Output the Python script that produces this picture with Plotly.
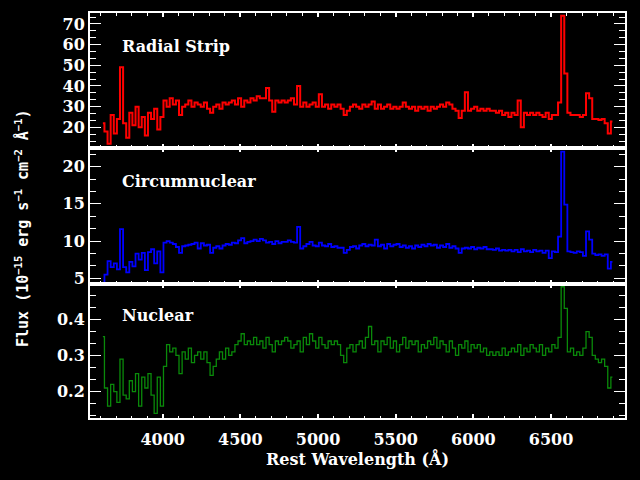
import plotly.graph_objects as go

# Rest wavelength bins (Angstrom)
wave = [3615, 3635, 3655, 3675, 3695, 3715, 3735, 3755, 3775, 3795,
        3815, 3835, 3855, 3875, 3895, 3915, 3935, 3955, 3975, 3995,
        4015, 4035, 4055, 4075, 4095, 4115, 4135, 4155, 4175, 4195,
        4215, 4235, 4255, 4275, 4295, 4315, 4335, 4355, 4375, 4395,
        4415, 4435, 4455, 4475, 4495, 4515, 4535, 4555, 4575, 4595,
        4615, 4635, 4655, 4675, 4695, 4715, 4735, 4755, 4775, 4795,
        4815, 4835, 4855, 4875, 4895, 4915, 4935, 4955, 4975, 4995,
        5015, 5035, 5055, 5075, 5095, 5115, 5135, 5155, 5175, 5195,
        5215, 5235, 5255, 5275, 5295, 5315, 5335, 5355, 5375, 5395,
        5415, 5435, 5455, 5475, 5495, 5515, 5535, 5555, 5575, 5595,
        5615, 5635, 5655, 5675, 5695, 5715, 5735, 5755, 5775, 5795,
        5815, 5835, 5855, 5875, 5895, 5915, 5935, 5955, 5975, 5995,
        6015, 6035, 6055, 6075, 6095, 6115, 6135, 6155, 6175, 6195,
        6215, 6235, 6255, 6275, 6295, 6315, 6335, 6355, 6375, 6395,
        6415, 6435, 6455, 6475, 6495, 6515, 6535, 6555, 6575, 6595,
        6615, 6635, 6655, 6675, 6695, 6715, 6735, 6755, 6775, 6795,
        6815, 6835, 6855, 6875, 6895]

flux_radial = [22, 18, 12, 26, 17, 24, 49, 22, 15, 27,
               21, 30, 20, 25, 16, 27, 24, 29, 19, 25,
               33, 30, 34, 31, 33, 26, 30, 31, 33, 30,
               32, 31, 30, 32, 29, 27, 30, 31, 29, 32,
               31, 32, 33, 31, 34, 30, 33, 32, 34, 33,
               35, 34, 34, 39, 33, 27.5, 33, 32, 33, 32,
               33, 34, 31, 40, 30, 32, 30, 31, 32, 30,
               36, 30, 31, 29, 31, 30, 31, 29, 26, 28,
               30, 31, 30, 29, 31, 30, 31, 32.5, 29, 31,
               29, 30, 31, 29, 30, 29, 30, 32, 30, 29,
               30, 28, 30, 29, 30, 28, 30, 29, 30, 31,
               30, 32, 31, 29, 28, 24.5, 28, 37, 28, 29,
               30, 28, 29, 28, 29, 28, 28, 27, 28, 26,
               27, 25, 27, 26, 33, 20, 27, 26, 27, 26,
               27, 26, 25, 27, 24, 26, 26, 32, 74, 46,
               27, 26, 26, 26, 25, 26, 36.5, 34, 24, 24,
               23.5, 24, 22, 17, 22.8]

flux_circum = [4.3, 5.5, 7.3, 6.5, 7.0, 6.2, 11.6, 6.5, 5.8, 7.2,
               6.6, 8.3, 7.5, 8.4, 6.1, 8.5, 8.9, 7.0, 8.6, 5.8,
               9.8, 10.0, 9.8, 9.6, 9.2, 8.4, 9.3, 9.4, 9.5, 9.6,
               9.8, 9.0, 9.7, 9.4, 9.5, 8.4, 9.1, 9.3, 9.0, 9.4,
               9.6, 9.5, 9.8, 9.7, 10.1, 10.4, 9.7, 9.9, 10.0, 10.2,
               10.0, 10.3, 10.1, 9.8, 9.9, 9.6, 10.0, 9.7, 9.9, 9.9,
               10.1, 9.9, 9.8, 11.9, 9.0, 9.3, 9.6, 9.9, 9.4, 9.3,
               9.8, 9.4, 9.3, 9.6, 9.2, 9.3, 9.1, 9.1, 8.4, 8.8,
               9.2, 9.3, 9.0, 9.4, 9.6, 9.3, 9.5, 9.4, 10.2, 9.3,
               9.5, 9.0, 9.6, 9.3, 9.5, 9.6, 9.2, 9.4, 9.1, 9.3,
               9.0, 9.4, 9.2, 9.5, 9.3, 9.6, 9.4, 9.5, 9.1, 9.4,
               9.2, 9.6, 9.1, 9.3, 9.0, 8.4, 9.0, 9.1, 9.0, 9.2,
               8.9, 9.1, 9.0, 9.2, 8.9, 8.9, 8.8, 9.0, 8.7, 8.8,
               8.7, 8.8, 8.6, 8.8, 8.5, 8.9, 8.6, 8.7, 8.5, 8.8,
               8.6, 8.7, 8.4, 8.7, 7.7, 8.6, 8.5, 10.6, 22.0, 14.9,
               8.6, 8.5, 8.4, 8.6, 8.5, 8.0, 11.3, 10.2, 8.3, 8.1,
               8.2, 8.0, 8.2, 6.3, 7.2]

flux_nuclear = [0.352, 0.21, 0.16, 0.22, 0.20, 0.17, 0.29, 0.19, 0.18, 0.23,
                0.20, 0.25, 0.16, 0.24, 0.21, 0.25, 0.19, 0.14, 0.24, 0.16,
                0.27, 0.33, 0.31, 0.32, 0.30, 0.25, 0.31, 0.29, 0.32, 0.28,
                0.30, 0.31, 0.29, 0.31, 0.28, 0.245, 0.27, 0.29, 0.31, 0.29,
                0.32, 0.30, 0.31, 0.33, 0.34, 0.36, 0.33, 0.34, 0.33, 0.35,
                0.33, 0.34, 0.32, 0.35, 0.33, 0.31, 0.34, 0.33, 0.34, 0.35,
                0.34, 0.32, 0.33, 0.34, 0.31, 0.35, 0.33, 0.36, 0.34, 0.32,
                0.35, 0.33, 0.32, 0.34, 0.33, 0.34, 0.33, 0.30, 0.28, 0.32,
                0.33, 0.31, 0.33, 0.34, 0.32, 0.35, 0.38, 0.33, 0.34, 0.31,
                0.34, 0.33, 0.35, 0.32, 0.34, 0.31, 0.33, 0.35, 0.32, 0.34,
                0.33, 0.34, 0.31, 0.33, 0.32, 0.34, 0.33, 0.35, 0.32, 0.34,
                0.33, 0.31, 0.34, 0.32, 0.30, 0.33, 0.32, 0.34, 0.31, 0.33,
                0.32, 0.33, 0.31, 0.32, 0.30, 0.31, 0.30, 0.31, 0.30, 0.32,
                0.30, 0.31, 0.32, 0.31, 0.33, 0.30, 0.32, 0.31, 0.33, 0.32,
                0.31, 0.33, 0.30, 0.32, 0.31, 0.33, 0.32, 0.35, 0.49, 0.43,
                0.31, 0.32, 0.30, 0.31, 0.30, 0.32, 0.366, 0.35, 0.30, 0.29,
                0.28, 0.29, 0.27, 0.21, 0.24]

panel_names = ["Radial Strip", "Circumnuclear", "Nuclear"]
x_ticks = [4000, 4500, 5000, 5500, 6000, 6500]
y_ticks_radial = [20, 30, 40, 50, 60, 70]
y_ticks_circum = [5, 10, 15, 20]
y_ticks_nuclear = [0.2, 0.3, 0.4]
y_ticktext_nuclear = ["0.2", "0.3", "0.4"]

BIG = dict(family="DejaVu Serif", size=16, color="white", weight="bold")

fig = go.Figure()
fig.add_trace(go.Scatter(x=wave, y=flux_radial, mode="lines",
                         line=dict(color="#ff0000", width=2, shape="hvh"),
                         xaxis="x", yaxis="y", showlegend=False))
fig.add_trace(go.Scatter(x=wave, y=flux_circum, mode="lines",
                         line=dict(color="#0000ff", width=1.8, shape="hvh"),
                         xaxis="x2", yaxis="y2", showlegend=False))
fig.add_trace(go.Scatter(x=wave, y=flux_nuclear, mode="lines",
                         line=dict(color="#0a8a0a", width=1.3, shape="hvh"),
                         xaxis="x3", yaxis="y3", showlegend=False))

def xax(anchor, labels):
    return dict(range=[3532, 6976], anchor=anchor, tickvals=x_ticks,
                showticklabels=labels, ticks="inside", ticklen=4, tickwidth=2,
                tickcolor="white", showline=True, linecolor="white", linewidth=2,
                mirror="ticks", showgrid=False, zeroline=False,
                tickfont=BIG, ticklabelstandoff=6,
                minor=dict(ticks="inside", dtick=100, tick0=0, ticklen=2.5,
                           tickwidth=1, tickcolor="white", showgrid=False))

def yax(anchor, dom, rng, tv, mdt, tt=None):
    d = dict(domain=dom, range=rng, anchor=anchor, tickvals=tv,
             ticks="inside", ticklen=11, tickwidth=1, tickcolor="white",
             showline=True, linecolor="white", linewidth=2, mirror="ticks",
             showgrid=False, zeroline=False, tickfont=BIG,
             minor=dict(ticks="inside", dtick=mdt, tick0=0, ticklen=6,
                        tickwidth=1, tickcolor="white", showgrid=False))
    if tt is not None:
        d["ticktext"] = tt
    return d

fig.update_layout(
    width=640, height=480,
    margin=dict(l=90, r=15, t=13, b=62, pad=0),
    paper_bgcolor="black", plot_bgcolor="black",
    xaxis=xax("y", False),
    xaxis2=xax("y2", False),
    xaxis3=xax("y3", True),
    yaxis=yax("x", [0.6667, 1.0], [10, 75.3], y_ticks_radial, 10 / 3),
    yaxis2=yax("x2", [0.3309, 0.6667], [4.23, 22.5], y_ticks_circum, 5 / 3),
    yaxis3=yax("x3", [0.0, 0.3309], [0.127, 0.4976], y_ticks_nuclear, 0.1 / 3,
               y_ticktext_nuclear),
)

label_y = [0.9185, 0.585, 0.2519]
for name, yy in zip(panel_names, label_y):
    fig.add_annotation(text=name, xref="paper", yref="paper", x=(120 - 90) / 535,
                       y=yy, xanchor="left", yanchor="middle", showarrow=False,
                       font=BIG)

fig.add_annotation(text="Rest Wavelength (Å)", xref="paper", yref="paper",
                   x=(357 - 90) / 535, y=(418 - 458) / 405, xanchor="center",
                   yanchor="middle", showarrow=False, font=BIG)

fig.add_annotation(
    text="Flux (10<sup>−15</sup> erg s<sup>−1</sup> cm<sup>−2</sup> Å<sup>−1</sup>)",
    xref="paper", yref="paper", x=(22 - 90) / 535, y=(418 - 228) / 405,
    xanchor="center", yanchor="middle", textangle=-90, showarrow=False,
    font=dict(family="DejaVu Sans Mono", size=15, color="white", weight="bold"))

fig.write_html("out.html")
